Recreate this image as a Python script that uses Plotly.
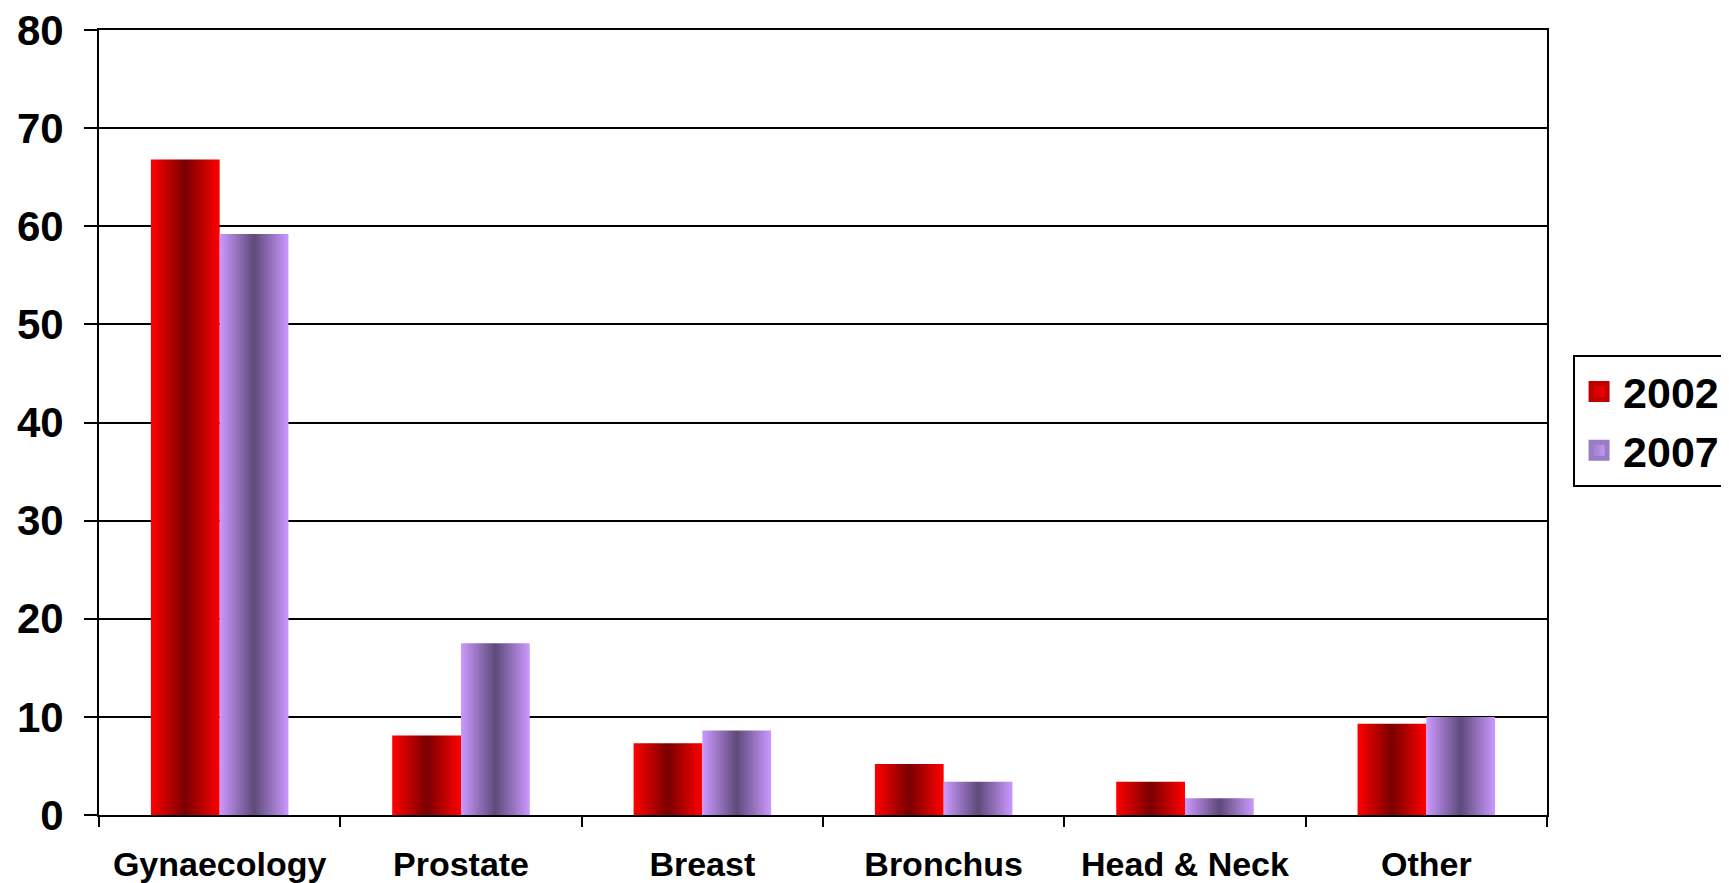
import plotly.graph_objects as go

categories = ["Gynaecology", "Prostate", "Breast", "Bronchus", "Head & Neck", "Other"]
years = ["2002", "2007"]
values_2002 = [66.8, 8.1, 7.3, 5.2, 3.4, 9.3]
values_2007 = [59.2, 17.5, 8.6, 3.4, 1.7, 10.0]
y_ticks = [0, 10, 20, 30, 40, 50, 60, 70, 80]

FONT = "Liberation Sans, Arial, sans-serif"
bar_w = 0.285

# light / dark ends of the gradient for each year, plus a mid tone for the legend key
shades = {
    "2002": ("#ff0000", "#7a0000", "#c00000"),
    "2007": ("#cc99ff", "#5e4a7a", "#9a7cc4"),
}

fig = go.Figure()

for k, (year, vals) in enumerate(zip(years, [values_2002, values_2007])):
    light, dark, mid = shades[year]
    offset = (k - 0.5) * bar_w
    for i, v in enumerate(vals):
        x0 = i + offset - bar_w / 2
        x1 = x0 + bar_w
        fig.add_trace(go.Scatter(
            x=[x0, x0, x1, x1, x0],
            y=[0, v, v, 0, 0],
            mode="lines",
            line=dict(width=0),
            fill="toself",
            fillgradient=dict(type="horizontal",
                              colorscale=[[0, light], [0.5, dark], [1, light]]),
            name=year,
            legendgroup=year,
            showlegend=False,
            hoveron="fills",
            text=f"{categories[i]} {year}: {v}",
            hoverinfo="text",
        ))
    # legend key (square swatch)
    fig.add_trace(go.Scatter(
        x=[None], y=[None],
        mode="markers",
        marker=dict(symbol="square", size=16, color=mid,
                    gradient=dict(type="horizontal", color=light),
                    line=dict(width=5, color=mid)),
        name=year,
        legendgroup=year,
        showlegend=True,
    ))

# page body adds an 8px offset, margins are set against that
fig.update_layout(
    width=1729, height=883,
    margin=dict(l=91, r=190, t=22, b=76, autoexpand=False),
    paper_bgcolor="white",
    plot_bgcolor="white",
    font=dict(family=FONT, color="black"),
    showlegend=True,
    legend=dict(
        x=1.018, y=0.502, xanchor="left", yanchor="middle",
        bordercolor="black", borderwidth=2,
        font=dict(size=43, weight="bold"),
        itemwidth=38,
        tracegroupgap=0,
    ),
)

fig.update_xaxes(
    range=[-0.5, 5.5],
    tickvals=list(range(len(categories))),
    ticktext=categories,
    ticks="",
    tickfont=dict(size=34, weight="bold"),
    ticklabelstandoff=18,
    ticklabeloverflow="allow",
    automargin=False,
    showline=True, linecolor="black", linewidth=2, mirror=True,
    showgrid=False, zeroline=False,
    minor=dict(tickvals=[i - 0.5 for i in range(len(categories) + 1)],
               ticks="outside", ticklen=10, tickwidth=2, tickcolor="black",
               showgrid=False),
)

fig.update_yaxes(
    range=[0, 80],
    tickvals=y_ticks,
    ticks="outside", ticklen=13, tickwidth=2, tickcolor="black",
    tickfont=dict(size=42, weight="bold"),
    ticklabelstandoff=12,
    ticklabeloverflow="allow",
    automargin=False,
    showgrid=True, gridcolor="black", gridwidth=2,
    showline=True, linecolor="black", linewidth=2, mirror=True,
    zeroline=False,
)

fig.write_html("out.html")
